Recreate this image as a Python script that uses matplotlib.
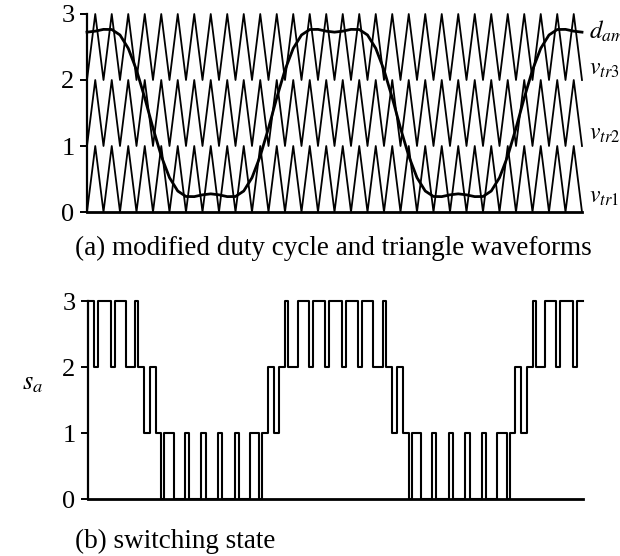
import matplotlib
matplotlib.use("Agg")
import matplotlib.pyplot as plt
import numpy as np

plt.rcParams['font.family'] = ['Liberation Serif', 'DejaVu Serif']
plt.rcParams['mathtext.fontset'] = 'stix'

# time axis in carrier periods (30 carrier periods = 2 fundamental periods)
t_duty = np.arange(0, 30.5, 0.5)
d_am = [2.725, 2.740, 2.767, 2.765, 2.682, 2.480, 2.152, 1.729, 1.271, 0.848,
        0.520, 0.318, 0.235, 0.233, 0.260, 0.275, 0.260, 0.233, 0.235, 0.318,
        0.520, 0.848, 1.271, 1.729, 2.152, 2.480, 2.682, 2.765, 2.767, 2.740,
        2.725, 2.740, 2.767, 2.765, 2.682, 2.480, 2.152, 1.729, 1.271, 0.848,
        0.520, 0.318, 0.235, 0.233, 0.260, 0.275, 0.260, 0.233, 0.235, 0.318,
        0.520, 0.848, 1.271, 1.729, 2.152, 2.480, 2.682, 2.765, 2.767, 2.740,
        2.725]

# triangle carriers: vertices every half period, trough -> peak
t_tri = np.arange(0, 30.5, 0.5)
tri_shape = np.array([0, 1] * 30 + [0])
carrier_offsets = [0, 1, 2]

# switching state s_a: edge times and the level held after each edge
sw_t = [0.0, 0.366, 0.627, 1.386, 1.623, 2.290, 2.876, 3.055, 3.405, 3.745,
        4.093, 4.445, 4.621, 5.210, 5.877, 6.115, 6.873, 7.133, 7.867, 8.127,
        8.885, 9.123, 9.790, 10.379, 10.555, 10.907, 11.255, 11.595, 11.945, 12.124,
        12.710, 13.377, 13.614, 14.373, 14.634,
        15.366, 15.627, 16.386, 16.623, 17.290, 17.876, 18.055, 18.405, 18.745,
        19.093, 19.445, 19.621, 20.210, 20.877, 21.115, 21.873, 22.133, 22.867, 23.127,
        23.885, 24.123, 24.790, 25.379, 25.555, 25.907, 26.255, 26.595, 26.945, 27.124,
        27.710, 28.377, 28.614, 29.373, 29.634, 30.0]
sw_s = [3, 2, 3, 2, 3, 2, 3, 2, 1, 2,
        1, 0, 1, 0, 1, 0, 1, 0, 1, 0,
        1, 0, 1, 0, 1, 2, 1, 2, 3, 2,
        3, 2, 3, 2, 3,
        2, 3, 2, 3, 2, 3, 2, 1, 2,
        1, 0, 1, 0, 1, 0, 1, 0, 1, 0,
        1, 0, 1, 0, 1, 2, 1, 2, 3, 2,
        3, 2, 3, 2, 3, 3]

yticks = [0, 1, 2, 3]
tri_labels = [r'$v_{tr1}$', r'$v_{tr2}$', r'$v_{tr3}$']
tri_label_y = [0.22, 1.17, 2.16]

W, H = 620, 556
fig = plt.figure(figsize=(W / 100, H / 100), dpi=100)
ax1 = fig.add_axes([87 / W, 1 - 212 / H, 495 / W, 198 / H])
ax2 = fig.add_axes([88 / W, 1 - 499 / H, 495 / W, 198 / H])


def style_axis(ax):
    ax.set_xlim(0, 30)
    ax.set_ylim(0, 3)
    ax.spines['top'].set_visible(False)
    ax.spines['right'].set_visible(False)
    ax.spines['left'].set_linewidth(1.6)
    ax.spines['bottom'].set_linewidth(2.0)
    ax.set_xticks([])
    ax.set_yticks(yticks)
    ax.tick_params(axis='y', direction='out', length=5, width=1.4,
                   labelsize=19, pad=4)


# (a) duty cycle and carriers
for k in carrier_offsets:
    ax1.plot(t_tri, tri_shape + k, color='black', linewidth=1.3, clip_on=False)
ax1.plot(t_duty, d_am, color='black', linewidth=2.0, clip_on=False)
style_axis(ax1)

ax1.text(30.4, 2.74, r'$d_{am}$', fontsize=18, ha='left', va='center', clip_on=False)
for lab, yy in zip(tri_labels, tri_label_y):
    ax1.text(30.4, yy, lab, fontsize=17, ha='left', va='center', clip_on=False)

# (b) switching state
ax2.step(sw_t, sw_s, where='post', color='black', linewidth=1.5, clip_on=False)
style_axis(ax2)

fig.text(22 / W, 1 - 384 / H, r'$s_a$', fontsize=19, ha='left', va='center')
fig.text(75 / W, 1 - 248 / H, '(a) modified duty cycle and triangle waveforms',
         fontsize=19.5, ha='left', va='center')
fig.text(75 / W, 1 - 541 / H, '(b) switching state', fontsize=19.5,
         ha='left', va='center')

plt.savefig('out.png', dpi=100)
